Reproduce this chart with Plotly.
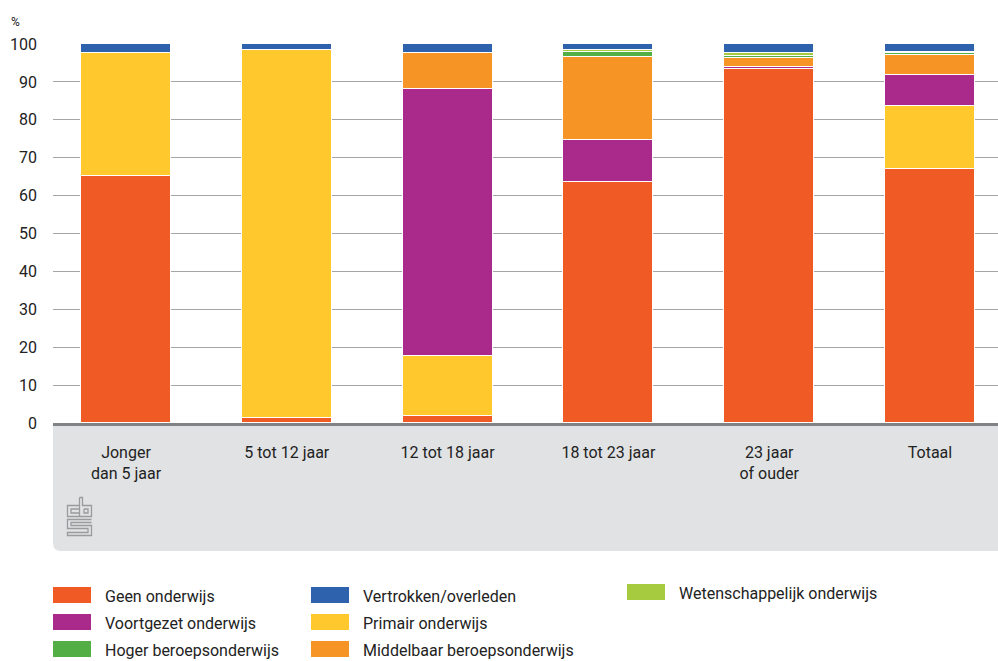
import plotly.graph_objects as go

# ---------------- data ----------------
categories = ["Jonger<br>dan 5 jaar", "5 tot 12 jaar", "12 tot 18 jaar",
              "18 tot 23 jaar", "23 jaar<br>of ouder", "Totaal"]

geen_onderwijs = [65.2, 1.2, 1.8, 63.5, 93.5, 67.0]
primair_onderwijs = [32.5, 97.2, 15.8, 0.0, 0.0, 16.6]
voortgezet_onderwijs = [0.0, 0.0, 70.6, 11.2, 0.5, 8.3]
middelbaar_beroeps = [0.0, 0.0, 9.5, 22.0, 2.3, 5.3]
hoger_beroeps = [0.0, 0.0, 0.0, 1.1, 0.5, 0.4]
wetenschappelijk = [0.0, 0.0, 0.0, 0.7, 0.8, 0.3]
vertrokken_overleden = [2.3, 1.6, 2.3, 1.5, 2.4, 2.1]

y_ticks = [0, 10, 20, 30, 40, 50, 60, 70, 80, 90, 100]

# stacking order bottom -> top
series = [
    ("Geen onderwijs", geen_onderwijs, "#F05A25"),
    ("Primair onderwijs", primair_onderwijs, "#FFC92E"),
    ("Voortgezet onderwijs", voortgezet_onderwijs, "#AA2A8C"),
    ("Middelbaar beroepsonderwijs", middelbaar_beroeps, "#F79426"),
    ("Hoger beroepsonderwijs", hoger_beroeps, "#53AE46"),
    ("Wetenschappelijk onderwijs", wetenschappelijk, "#A6CB3F"),
    ("Vertrokken/overleden", vertrokken_overleden, "#2F62AD"),
]
legend_order = ["Geen onderwijs", "Voortgezet onderwijs", "Hoger beroepsonderwijs",
                "Vertrokken/overleden", "Primair onderwijs", "Middelbaar beroepsonderwijs",
                "Wetenschappelijk onderwijs"]

# ---------------- layout geometry ----------------
W, H = 998, 661
ML, MR, MT, MB = 53, 0, 44, 238
PW, PH = W - ML - MR, H - MT - MB
FONT = "Roboto, 'Open Sans', sans-serif"
TXT = "#222222"


def px(x):
    return (x - ML) / PW


def py(y):
    return (H - MB - y) / PH


fig = go.Figure()
for name, vals, col in series:
    fig.add_trace(go.Bar(
        x=categories, y=vals, name=name, width=0.56,
        marker=dict(color=col, line=dict(color="white", width=1)),
        showlegend=False, hoverinfo="x+y+name",
    ))

shapes = []
# grey panel below the axis, rounded bottom-left corner
r_x, r_y = 8 / PW, 8 / PH
yb = py(551)
shapes.append(dict(
    type="path", xref="paper", yref="paper", layer="below",
    path=(f"M 0,0 L 1,0 L 1,{yb} L {r_x},{yb} Q 0,{yb} 0,{yb + r_y} Z"),
    fillcolor="#E1E2E4", line=dict(width=0),
))

# CBS logo (approximation with strokes)
logo_paths = [
    [(79, 505.5), (67.5, 505.5), (67.5, 516.5), (79, 516.5)],
    [(79, 509), (71, 509), (71, 513), (79, 513)],
    [(79.5, 497.5), (82.5, 497.5), (82.5, 505.5), (91.5, 505.5), (91.5, 516.5), (79.5, 516.5), (79.5, 497.5)],
    [(84, 509), (88, 509), (88, 513), (84, 513), (84, 509)],
    [(91.5, 519.5), (67.5, 519.5), (67.5, 528.5), (88, 528.5), (88, 532.5), (67.5, 532.5),
     (67.5, 535.5), (91.5, 535.5), (91.5, 525.5), (71, 525.5), (71, 522.5), (91.5, 522.5)],
]
for pts in logo_paths:
    d = "M " + " L ".join(f"{px(a):.5f},{py(b):.5f}" for a, b in pts)
    shapes.append(dict(type="path", xref="paper", yref="paper", path=d,
                       line=dict(color="#9A9B9D", width=1.3)))

annotations = [dict(text="%", xref="paper", yref="paper", x=px(9), y=py(22),
                    xanchor="left", yanchor="middle", showarrow=False,
                    font=dict(family=FONT, size=12, color=TXT))]

# manual legend
col_x = [53, 311, 627]
row_y = [595, 622, 649]
color_of = {n: c for n, _, c in series}
for i, name in enumerate(legend_order):
    c, r = divmod(i, 3)
    yc = row_y[r] - (3 if c == 2 else 0)
    x0 = col_x[c]
    shapes.append(dict(type="rect", xref="paper", yref="paper",
                       x0=px(x0), x1=px(x0 + 38), y0=py(yc - 8), y1=py(yc + 8),
                       fillcolor=color_of[name], line=dict(width=0)))
    annotations.append(dict(text=name, xref="paper", yref="paper",
                            x=px(x0 + 50), y=py(yc + 1), xanchor="left", yanchor="middle",
                            showarrow=False, font=dict(family=FONT, size=16, color=TXT)))

fig.update_layout(
    width=W, height=H, barmode="stack", bargap=0,
    margin=dict(l=ML, r=MR, t=MT, b=MB, pad=0),
    plot_bgcolor="white", paper_bgcolor="white",
    font=dict(family=FONT, size=16, color=TXT),
    shapes=shapes, annotations=annotations, showlegend=False,
    xaxis=dict(range=[-0.454, 5.423], showline=True, linecolor="#808285", linewidth=3,
               showgrid=False, ticks="", ticklabelstandoff=13,
               tickfont=dict(family=FONT, size=16, color=TXT), fixedrange=True),
    yaxis=dict(range=[0, 100], tickvals=y_ticks, showgrid=True, gridcolor="#A3A5A8",
               gridwidth=1.3, zeroline=False, showline=False, ticks="",
               ticklabelstandoff=15, tickfont=dict(family=FONT, size=16, color=TXT),
               fixedrange=True),
)

fig.write_html("out.html", config={"displayModeBar": False},
               post_script="document.body.style.margin='0';")
